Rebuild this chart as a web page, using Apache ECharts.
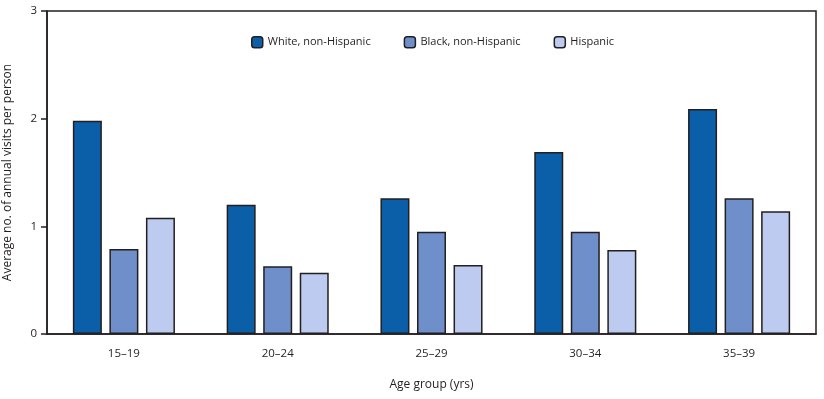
<!DOCTYPE html>
<html>
<head>
<meta charset="utf-8">
<script src="https://cdn.jsdelivr.net/npm/echarts@6/dist/echarts.min.js"></script>
<style>
  html, body { margin: 0; padding: 0; background: #fff; }
  #chart { width: 824px; height: 399px; }
</style>
</head>
<body>
<div id="chart"></div>
<script>
// data
var ageGroups = ['15–19', '20–24', '25–29', '30–34', '35–39'];
var seriesNames = ['White, non-Hispanic', 'Black, non-Hispanic', 'Hispanic'];
var whiteVals = [1.98, 1.20, 1.26, 1.69, 2.09];
var blackVals = [0.79, 0.63, 0.95, 0.95, 1.26];
var hispanicVals = [1.08, 0.57, 0.64, 0.78, 1.14];
var yTicks = [0, 1, 2, 3];

var colors = ['#0b5fa8', '#6e8fca', '#bccbef'];
var ink = '#231f20';
var font = 'Open Sans';

var chart = echarts.init(document.getElementById('chart'));

var values = [whiteVals, blackVals, hispanicVals];
var series = seriesNames.map(function (name, i) {
  return {
    name: name,
    type: 'bar',
    data: values[i],
    barWidth: 29,
    barGap: '26%',
    itemStyle: { color: colors[i], borderColor: ink, borderWidth: 1.5 }
  };
});

var option = {
  animation: false,
  backgroundColor: '#fff',
  textStyle: { fontFamily: font },
  legend: {
    top: 31,
    left: 246,
    itemWidth: 11,
    itemHeight: 11,
    itemGap: 33,
    textStyle: { fontSize: 11, color: ink, fontFamily: font },
    data: seriesNames.map(function (n, i) {
      return { name: n, itemStyle: { borderColor: ink, borderWidth: 1.5 } };
    })
  },
  grid: {
    left: 47, right: 8, top: 11, bottom: 65,
    outerBoundsMode: 'none',
    containLabel: false,
    show: true, borderColor: ink, borderWidth: 1.5
  },
  xAxis: {
    type: 'category',
    data: ageGroups,
    name: 'Age group (yrs)',
    nameLocation: 'middle',
    nameGap: 45,
    nameTextStyle: { fontSize: 12, color: ink },
    axisLine: { lineStyle: { color: ink, width: 1.5 } },
    axisTick: { alignWithLabel: true, length: 5, lineStyle: { color: ink, width: 1.5 } },
    axisLabel: { fontSize: 11.5, color: ink, margin: 14 }
  },
  yAxis: {
    type: 'value',
    min: 0,
    max: 3,
    interval: 1,
    name: 'Average no. of annual visits per person',
    nameLocation: 'middle',
    nameGap: 33,
    nameTextStyle: { fontSize: 12, color: ink },
    axisLine: { show: true, lineStyle: { color: ink, width: 1.5 } },
    axisTick: { show: true, length: 6, lineStyle: { color: ink, width: 1.5 } },
    axisLabel: {
      fontSize: 11.5, color: ink, margin: 10,
      formatter: function (v) { return yTicks.indexOf(v) >= 0 ? String(v) : ''; }
    },
    splitLine: { show: false }
  },
  series: series
};

chart.setOption(option);
</script>
</body>
</html>
